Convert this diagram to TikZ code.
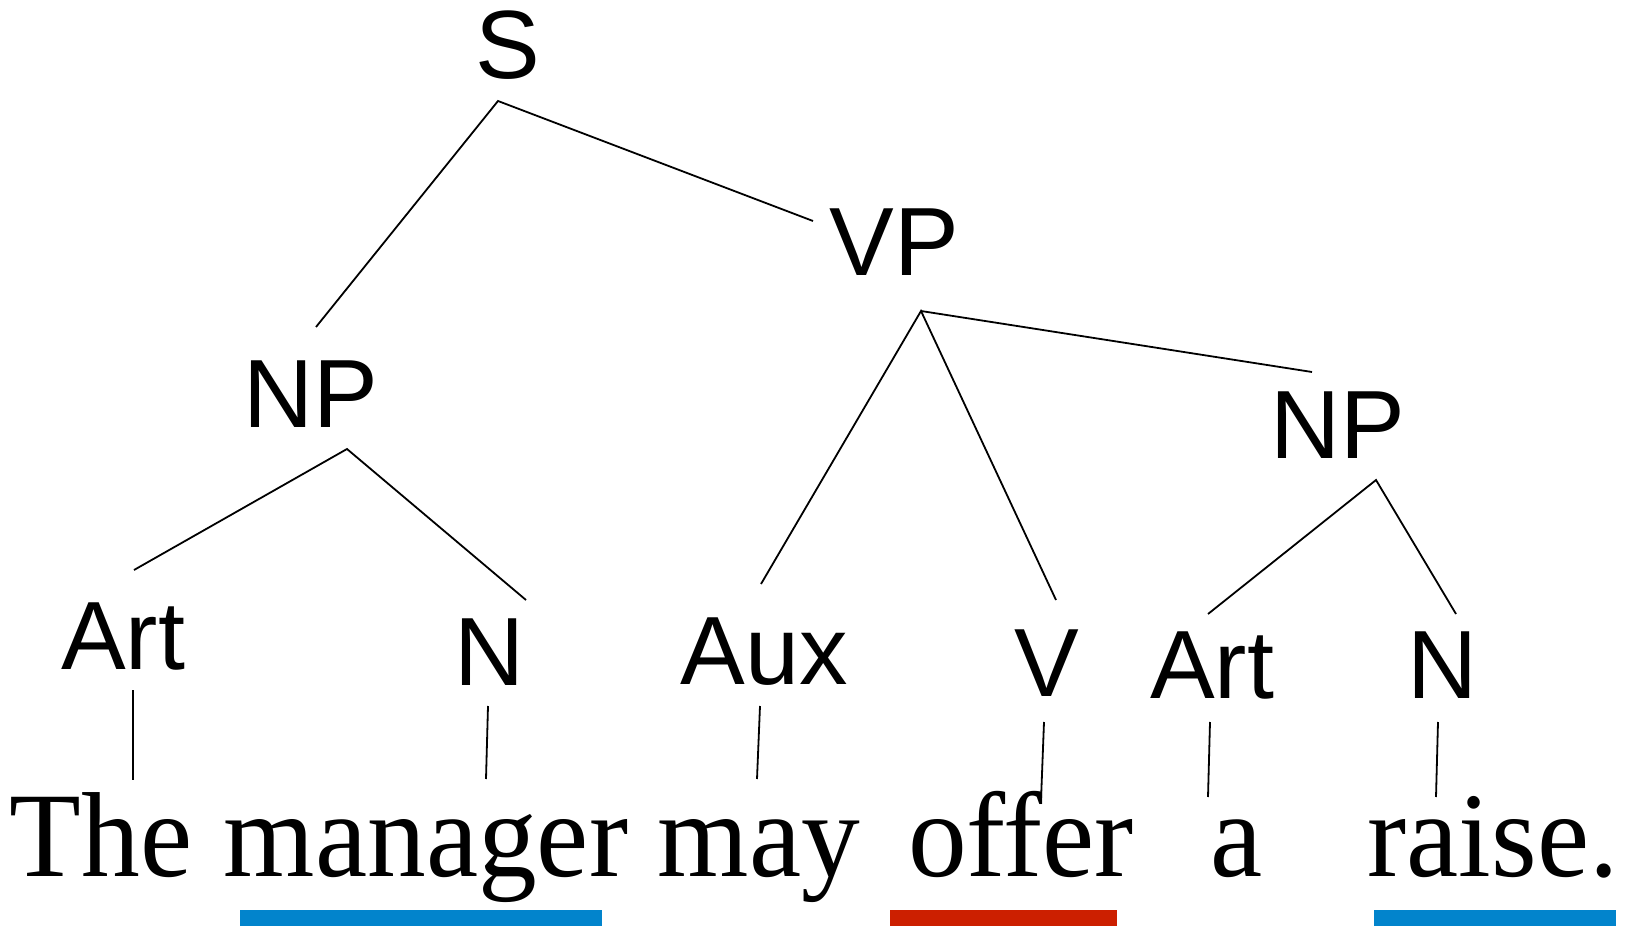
\documentclass[tikz,border=0pt]{standalone}
\usepackage{fontspec}
\setmainfont{Liberation Serif}[FakeStretch=0.97]
\newfontfamily\labelfont{Liberation Sans}
\definecolor{ulblue}{RGB}{2,132,204}
\definecolor{ulred}{RGB}{204,31,0}
\tikzset{
  cat/.style={inner sep=0pt, anchor=base, font=\labelfont\fontsize{97}{100}\selectfont},
  word/.style={inner sep=0pt, anchor=base, font=\fontsize{121}{125}\selectfont},
  branch/.style={draw=black, line width=1.8pt},
}
\begin{document}
\begin{tikzpicture}[x=1pt,y=-1pt]
\useasboundingbox (0,0) rectangle (1633,928);
% category labels
\node[cat] (S) at (508,79) {S};
\node[cat] (VP) at (894,276) {VP};
\node[cat] (NP1) at (311,427) {NP};
\node[cat] (NP2) at (1338,458) {NP};
\node[cat] (Art1) at (123,669) {Art};
\node[cat] (N1) at (490,685) {N};
\node[cat] (Aux) at (764,684) {Aux};
\node[cat] (V) at (1047,696) {V};
\node[cat] (Art2) at (1212,698) {Art};
\node[cat] (N2) at (1443,698) {N};
% words
\node[word] (w1) at (101,876) {The};
\node[word] (w2) at (426,876) {manager};
\node[word] (w3) at (759,876) {may};
\node[word] (w4) at (1021,876) {offer};
\node[word] (w5) at (1237,876) {a};
\node[word] (w6) at (1493,876) {raise.};
% branch end points
\coordinate (S-b) at (498,101);
\coordinate (NP1-t) at (316,327);
\coordinate (VP-t) at (813,221);
\coordinate (VP-b) at (921,311);
\coordinate (Aux-t) at (761,584);
\coordinate (V-t) at (1056,600);
\coordinate (NP2-t) at (1312,372);
\coordinate (NP1-b) at (347,449);
\coordinate (Art1-t) at (134,570);
\coordinate (N1-t) at (526,600);
\coordinate (NP2-b) at (1376,480);
\coordinate (Art2-t) at (1208,614);
\coordinate (N2-t) at (1456,614);
\coordinate (Art1-b) at (133,690);
\coordinate (w1-t) at (133,780);
\coordinate (N1-b) at (488,706);
\coordinate (w2-t) at (486,779);
\coordinate (Aux-b) at (760,706);
\coordinate (w3-t) at (757,779);
\coordinate (V-b) at (1044,722);
\coordinate (w4-t) at (1041,800);
\coordinate (Art2-b) at (1210,722);
\coordinate (w5-t) at (1208,797);
\coordinate (N2-b) at (1438,722);
\coordinate (w6-t) at (1436,797);
% branches
\draw[branch] (NP1-t) -- (S-b) -- (VP-t);
\draw[branch] (Aux-t) -- (VP-b) -- (V-t);
\draw[branch] (VP-b) -- (NP2-t);
\draw[branch] (Art1-t) -- (NP1-b) -- (N1-t);
\draw[branch] (Art2-t) -- (NP2-b) -- (N2-t);
\draw[branch] (Art1-b) -- (w1-t);
\draw[branch] (N1-b) -- (w2-t);
\draw[branch] (Aux-b) -- (w3-t);
\draw[branch] (V-b) -- (w4-t);
\draw[branch] (Art2-b) -- (w5-t);
\draw[branch] (N2-b) -- (w6-t);
% underlines
\fill[ulblue] (240,910) rectangle (602,926);
\fill[ulred] (890,910) rectangle (1117,926);
\fill[ulblue] (1374,910) rectangle (1616,926);
\end{tikzpicture}
\end{document}
